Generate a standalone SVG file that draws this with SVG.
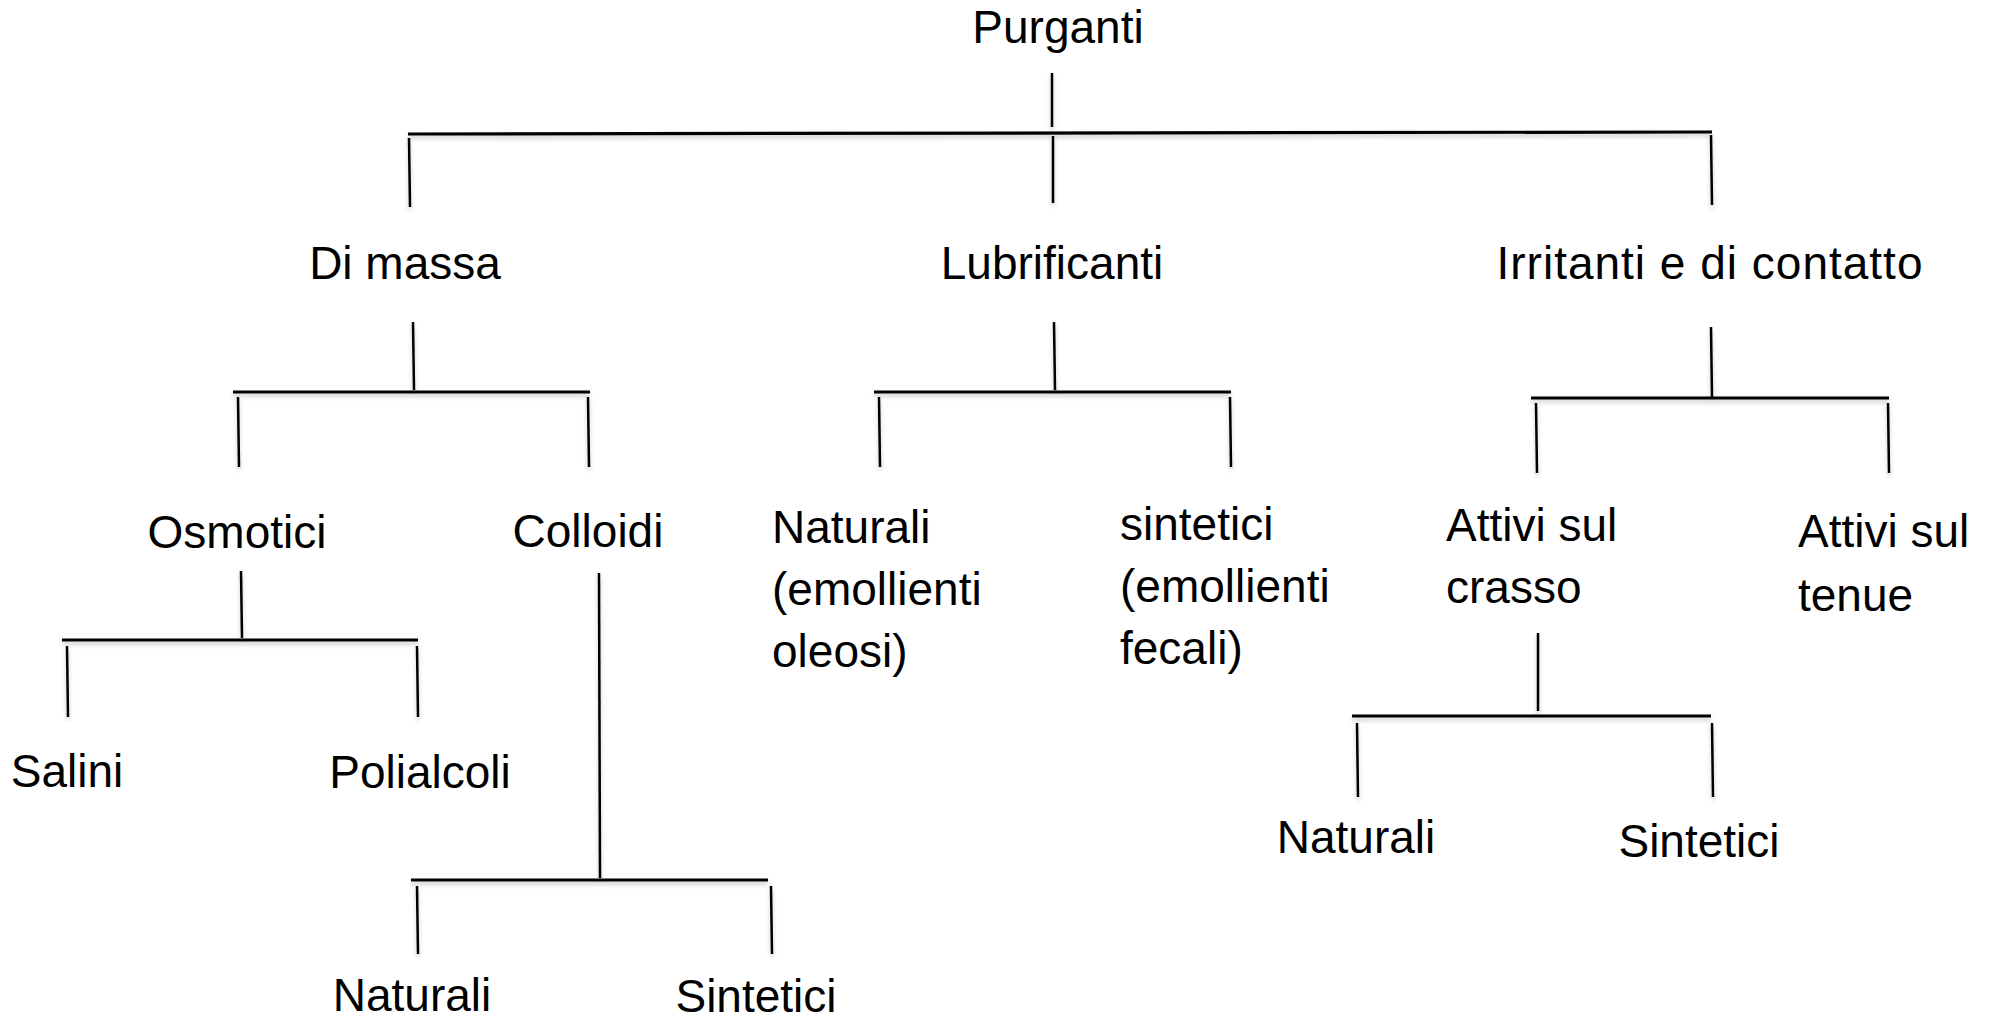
<svg xmlns="http://www.w3.org/2000/svg" width="1997" height="1021" viewBox="0 0 1997 1021">
  <defs>
    <filter id="sh" x="-5%" y="-50%" width="110%" height="300%">
      <feDropShadow dx="0" dy="3" stdDeviation="2" flood-color="#000" flood-opacity="0.22"/>
    </filter>
  </defs>
  <style>
    text { font-family: "Liberation Sans", Arial, sans-serif; font-size: 46px; fill: #000; }
    .c { text-anchor: middle; }
    .l { text-anchor: start; }
    .ln line { stroke: #000; stroke-width: 2.5; stroke-linecap: butt; }
    .bar { stroke-width: 3.2 !important; }
  </style>
  <rect width="1997" height="1021" fill="#fff"/>

  <g id="connectors" class="ln" filter="url(#sh)">
    <!-- root -->
    <line x1="1052" y1="73" x2="1052" y2="127"/>
    <line class="bar" x1="408" y1="134" x2="1712" y2="132"/>
    <line x1="409" y1="138" x2="410" y2="207"/>
    <line x1="1053" y1="136" x2="1053" y2="203"/>
    <line x1="1711" y1="135" x2="1712" y2="205"/>
    <!-- Di massa -->
    <line x1="413" y1="322" x2="414" y2="390"/>
    <line class="bar" x1="233" y1="392" x2="590" y2="392"/>
    <line x1="238" y1="397" x2="239" y2="467"/>
    <line x1="588" y1="397" x2="589" y2="467"/>
    <!-- Lubrificanti -->
    <line x1="1054" y1="322" x2="1055" y2="390"/>
    <line class="bar" x1="874" y1="392" x2="1231" y2="392"/>
    <line x1="879" y1="397" x2="880" y2="467"/>
    <line x1="1230" y1="397" x2="1231" y2="467"/>
    <!-- Irritanti -->
    <line x1="1711" y1="327" x2="1712" y2="397"/>
    <line class="bar" x1="1531" y1="398" x2="1889" y2="398"/>
    <line x1="1536" y1="403" x2="1537" y2="473"/>
    <line x1="1888" y1="403" x2="1889" y2="473"/>
    <!-- Osmotici -->
    <line x1="241" y1="571" x2="242" y2="638"/>
    <line class="bar" x1="62" y1="640" x2="418" y2="640"/>
    <line x1="67" y1="646" x2="68" y2="717"/>
    <line x1="417" y1="646" x2="418" y2="717"/>
    <!-- Colloidi -->
    <line x1="599" y1="573" x2="600" y2="878"/>
    <line class="bar" x1="411" y1="880" x2="768" y2="880"/>
    <line x1="417" y1="886" x2="418" y2="954"/>
    <line x1="771" y1="886" x2="772" y2="954"/>
    <!-- Attivi sul crasso -->
    <line x1="1538" y1="633" x2="1538" y2="711"/>
    <line class="bar" x1="1352" y1="716" x2="1711" y2="716"/>
    <line x1="1357" y1="723" x2="1358" y2="797"/>
    <line x1="1712" y1="723" x2="1713" y2="797"/>
  </g>

  <g id="n-purganti"><text class="c" x="1058" y="43">Purganti</text></g>
  <g id="n-dimassa"><text class="c" x="405" y="279">Di massa</text></g>
  <g id="n-lubrificanti"><text class="c" x="1052" y="279">Lubrificanti</text></g>
  <g id="n-irritanti"><text class="c" x="1710" y="279" letter-spacing="1">Irritanti e di contatto</text></g>
  <g id="n-osmotici"><text class="c" x="237" y="548">Osmotici</text></g>
  <g id="n-colloidi"><text class="c" x="588" y="547">Colloidi</text></g>
  <g id="n-naturali-lub"><text class="l" x="772" y="543">Naturali</text><text class="l" x="772" y="605">(emollienti</text><text class="l" x="772" y="667">oleosi)</text></g>
  <g id="n-sintetici-lub"><text class="l" x="1120" y="540">sintetici</text><text class="l" x="1120" y="602">(emollienti</text><text class="l" x="1120" y="664">fecali)</text></g>
  <g id="n-crasso"><text class="l" x="1446" y="541">Attivi sul</text><text class="l" x="1446" y="603">crasso</text></g>
  <g id="n-tenue"><text class="l" x="1798" y="547">Attivi sul</text><text class="l" x="1798" y="611">tenue</text></g>
  <g id="n-salini"><text class="c" x="67" y="787">Salini</text></g>
  <g id="n-polialcoli"><text class="c" x="420" y="788">Polialcoli</text></g>
  <g id="n-naturali-col"><text class="c" x="412" y="1011">Naturali</text></g>
  <g id="n-sintetici-col"><text class="c" x="756" y="1012">Sintetici</text></g>
  <g id="n-naturali-cr"><text class="c" x="1356" y="853">Naturali</text></g>
  <g id="n-sintetici-cr"><text class="c" x="1699" y="857">Sintetici</text></g>
</svg>
